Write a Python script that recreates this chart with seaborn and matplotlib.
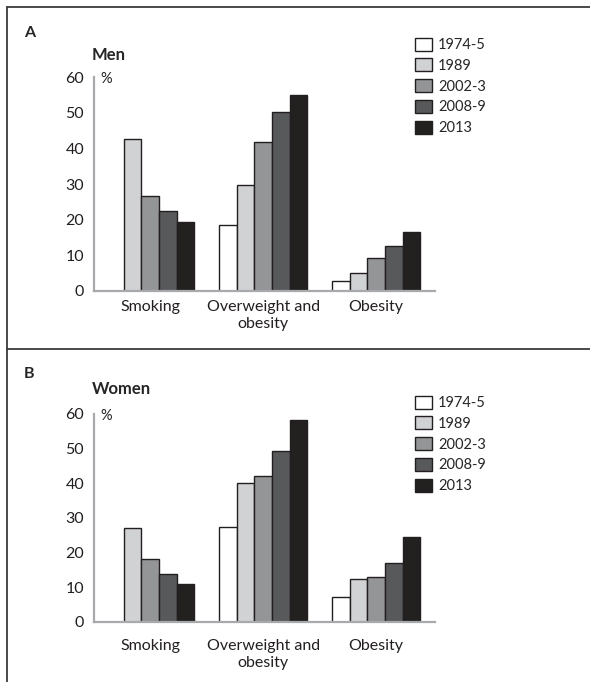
import numpy as np
import pandas as pd
import matplotlib
matplotlib.use("Agg")
import matplotlib.pyplot as plt
from matplotlib.lines import Line2D
import seaborn as sns

# Values (%)
categories = ["Smoking", "Overweight and\nobesity", "Obesity"]
years = ["1974-5", "1989", "2002-3", "2008-9", "2013"]
colors = ["#ffffff", "#d1d2d4", "#939598", "#58595b", "#231f20"]

men = {
    "1974-5": [np.nan, 18.4, 2.7],
    "1989": [42.6, 29.6, 4.9],
    "2002-3": [26.6, 41.8, 9.3],
    "2008-9": [22.4, 50.1, 12.7],
    "2013": [19.3, 54.9, 16.6],
}
women = {
    "1974-5": [np.nan, 27.3, 7.2],
    "1989": [27.1, 40.1, 12.3],
    "2002-3": [18.3, 42.2, 12.9],
    "2008-9": [13.7, 49.2, 17.0],
    "2013": [11.1, 58.4, 24.4],
}
yticks = [0, 10, 20, 30, 40, 50, 60]

sns.set_theme(style="white")
plt.rcParams["font.family"] = ["Lato", "DejaVu Sans"]


def to_long(data):
    rows = []
    for yr in years:
        for cat, val in zip(categories, data[yr]):
            rows.append({"category": cat, "year": yr, "value": val})
    return pd.DataFrame(rows)


def draw_panel(ax, data, xpad):
    df = to_long(data)
    sns.barplot(data=df, x="category", y="value", hue="year",
                order=categories, hue_order=years, palette=colors,
                width=0.78, edgecolor="#231f20", linewidth=1.0,
                errorbar=None, ax=ax)
    ax.set_ylim(0, 60)
    ax.set_xlim(-0.5, 2.52)
    ax.set_yticks(yticks)
    ax.set_xlabel("")
    ax.set_ylabel("")
    ax.tick_params(axis="both", length=0, labelsize=11.5, colors="#231f20")
    ax.tick_params(axis="y", pad=7)
    ax.tick_params(axis="x", pad=xpad)
    for lab in ax.get_xticklabels():
        lab.set_linespacing(1.3)
    for side in ["top", "right"]:
        ax.spines[side].set_visible(False)
    for side in ["left", "bottom"]:
        ax.spines[side].set_color("#a7a9ac")
        ax.spines[side].set_linewidth(1.6)
    ax.text(0.02, 0.99, "%", transform=ax.transAxes, fontsize=10.5,
            color="#231f20", va="center", ha="left")
    handles, labels = ax.get_legend_handles_labels()
    ax.get_legend().remove()
    return handles, labels


fig = plt.figure(figsize=(5.9, 6.82), dpi=100)

ax_a = fig.add_axes([0.159, 0.5737, 0.578, 0.313])
ax_b = fig.add_axes([0.159, 0.088, 0.578, 0.305])

leg_kw = dict(loc="upper left", frameon=False, fontsize=10.5,
              handlelength=1.15, handleheight=1.0, handletextpad=0.45,
              labelspacing=0.43, borderpad=0, borderaxespad=0)

h, l = draw_panel(ax_a, men, 6.5)
fig.legend(h, l, bbox_to_anchor=(0.703, 0.945), **leg_kw)
h, l = draw_panel(ax_b, women, 12)
fig.legend(h, l, bbox_to_anchor=(0.703, 0.420), **leg_kw)

fig.text(0.040, 0.951, "A", fontsize=11.5, fontweight="bold", va="center")
fig.text(0.156, 0.919, "Men", fontsize=12, fontweight="bold", va="center")
fig.text(0.040, 0.452, "B", fontsize=11.5, fontweight="bold", va="center")
fig.text(0.156, 0.429, "Women", fontsize=12, fontweight="bold", va="center")

# frame lines
frame_kw = dict(color="#3a3a3a", linewidth=1.3, transform=fig.transFigure)
fig.add_artist(Line2D([0.012, 1.01], [0.990, 0.990], **frame_kw))
fig.add_artist(Line2D([0.012, 0.012], [-0.01, 0.990], **frame_kw))
fig.add_artist(Line2D([0.012, 1.01], [0.488, 0.488], **frame_kw))

fig.savefig("out.png", dpi=100, facecolor="white")
